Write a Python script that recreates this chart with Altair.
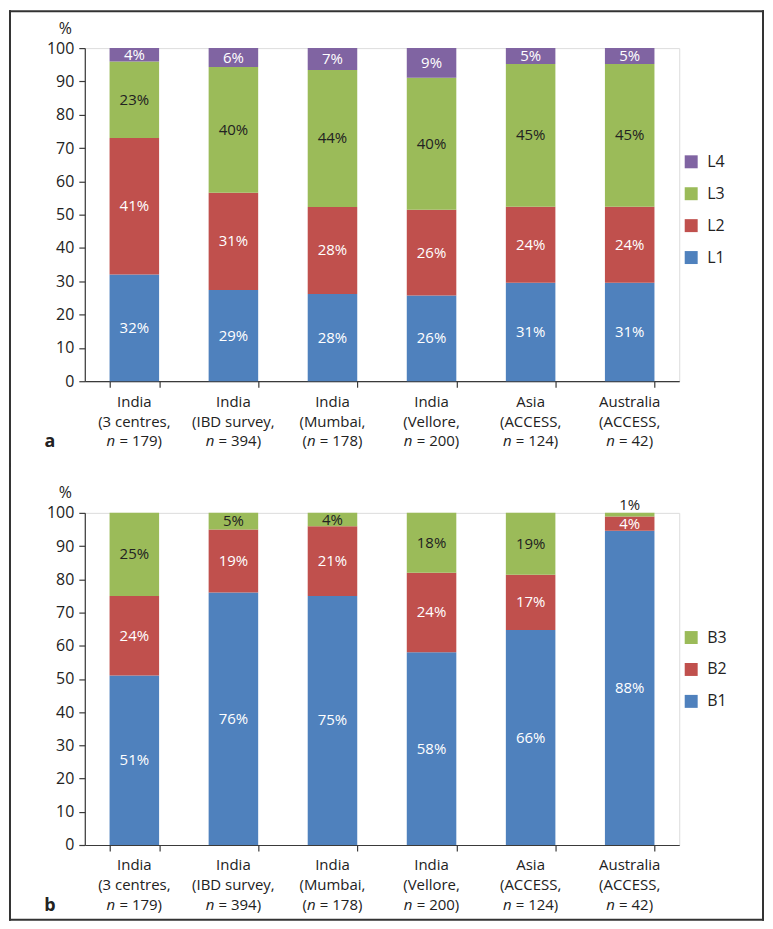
import altair as alt
import pandas as pd

# ---------------- data ----------------
categories = ["India (3 centres)", "India (IBD survey)", "India (Mumbai)",
              "India (Vellore)", "Asia (ACCESS)", "Australia (ACCESS)"]
label_line1 = ["India", "India", "India", "India", "Asia", "Australia"]
label_line2 = ["(3 centres,", "(IBD survey,", "(Mumbai,", "(Vellore,", "(ACCESS,", "(ACCESS,"]
label_prefix3 = ["", "", "(", "", "", ""]
n_values = ["179", "394", "178", "200", "124", "42"]

# panel a (location)
series_a = ["L1", "L2", "L3", "L4"]
L1 = [32, 29, 28, 26, 31, 31]
L2 = [41, 31, 28, 26, 24, 24]
L3 = [23, 40, 44, 40, 45, 45]
L4 = [4, 6, 7, 9, 5, 5]

# panel b (behaviour)
series_b = ["B1", "B2", "B3"]
B1 = [51, 76, 75, 58, 66, 88]
B2 = [24, 19, 21, 24, 17, 4]
B3 = [25, 5, 4, 18, 19, 1]

BLUE, RED, GREEN, PURPLE = "#4F81BD", "#C0504D", "#9BBB59", "#8064A2"
FONT = "Open Sans"
TXT = "#222222"
AX = "#3a3a3a"
W = 596

# approximate glyph widths (em) for centering the mixed italic line
EM = {"0": .572, "1": .572, "2": .572, "3": .572, "4": .572, "5": .572, "6": .572,
      "7": .572, "8": .572, "9": .572, " ": .26, "=": .572, "(": .297, ")": .297, "n": .6}
FS = 15


def tw(s):
    return sum(EM.get(ch, .55) for ch in s) * FS


def make_panel(names, values, legend_order, legend_colors, dark, legend_y,
               letter, height, top_rel, bottom_rel, draw_top):
    rows = []
    for k, (name, vals) in enumerate(zip(names, values)):
        for c, v in zip(categories, vals):
            rows.append({"cat": c, "series": name, "ord": k, "value": v})
    df = pd.DataFrame(rows)

    base = (alt.Chart(df)
            .transform_joinaggregate(total="sum(value)", groupby=["cat"])
            .transform_calculate(pct="datum.value / datum.total * 100")
            .transform_stack(stack="pct", groupby=["cat"], as_=["y0", "y1"],
                             sort=[alt.SortField("ord", order="ascending")])
            .transform_calculate(
                ymid="datum.pct < 2 ? datum.y1 + 2.4 : (datum.y0 + datum.y1) / 2",
                lab="datum.value + '%'"))

    xaxis = alt.Axis(labels=False, title=None, tickBand="extent", tickSize=6,
                     domainColor=AX, tickColor=AX, domainWidth=1.2, tickWidth=1.2)
    xenc = alt.X("cat:N", sort=categories,
                 scale=alt.Scale(domain=categories, paddingInner=0.5, paddingOuter=0.25),
                 axis=xaxis)
    yaxis = alt.Axis(values=list(range(0, 101, 10)), title="%", titleAngle=0,
                     titleX=-20, titleY=-20, titleAlign="center", titleBaseline="middle",
                     titleFontWeight="normal", titleFontSize=16, titleColor=TXT,
                     titleFont=FONT, grid=False, tickSize=6, labelPadding=5,
                     labelFontSize=16, labelColor=TXT, labelFont=FONT,
                     domainColor=AX, tickColor=AX, domainWidth=1.2, tickWidth=1.2)
    yscale = alt.Scale(domain=[0, 100], nice=False)

    bars = base.mark_bar().encode(
        x=xenc,
        y=alt.Y("y0:Q", scale=yscale, axis=yaxis),
        y2="y1:Q",
        color=alt.Color("series:N",
                        scale=alt.Scale(domain=legend_order, range=legend_colors),
                        legend=alt.Legend(orient="none", legendX=600, legendY=legend_y,
                                          title=None, symbolType="square", symbolSize=169,
                                          symbolStrokeWidth=0, symbolOpacity=1,
                                          labelFontSize=16, labelFont=FONT,
                                          labelColor=TXT, labelOffset=8, rowPadding=16)),
    )
    texts = base.mark_text(font=FONT, fontSize=15, baseline="middle").encode(
        x=xenc,
        y=alt.Y("ymid:Q", scale=yscale, axis=yaxis),
        text="lab:N",
        color=alt.condition(alt.FieldOneOfPredicate(field="series", oneOf=dark),
                            alt.value(TXT), alt.value("white")),
    )

    cat_df = pd.DataFrame({"cat": categories, "l1": label_line1, "l2": label_line2,
                           "pre": label_prefix3, "n": n_values})
    cbase = alt.Chart(cat_df)
    layers = [bars, texts]
    for field, dy in (("l1", 20.5), ("l2", 40.5)):
        layers.append(cbase.mark_text(font=FONT, fontSize=FS, color=TXT, baseline="middle",
                                      align="center").encode(
            x=xenc, y=alt.value(height + dy), text=f"{field}:N"))
    y3 = alt.value(height + 60)
    for c, pre, n in zip(categories, label_prefix3, n_values):
        rest = "= " + n + ")"
        gap = tw(" ")
        total = tw(pre) + tw("n") + gap + tw(rest)
        start = -total / 2
        sub = cbase.transform_filter(alt.FieldEqualPredicate(field="cat", equal=c))
        if pre:
            layers.append(sub.mark_text(font=FONT, fontSize=FS, color=TXT, baseline="middle",
                                        align="left", dx=start).encode(
                x=xenc, y=y3, text="pre:N"))
        layers.append(sub.mark_text(font=FONT, fontSize=FS, color=TXT, baseline="middle",
                                    align="left", dx=start + tw(pre), fontStyle="italic",
                                    text="n").encode(x=xenc, y=y3))
        layers.append(sub.mark_text(font=FONT, fontSize=FS, color=TXT, baseline="middle",
                                    align="left", dx=start + tw(pre) + tw("n") + gap,
                                    text=rest).encode(x=xenc, y=y3))

    one = alt.Chart(pd.DataFrame({"k": [0]}))
    layers.append(one.mark_text(font=FONT, fontSize=18, fontWeight="bold", color=TXT,
                                align="center", baseline="alphabetic", text=letter).encode(
        x=alt.value(-35), y=alt.value(height + 66)))

    # frame of the figure, drawn as thin filled rects (exact bounds)
    fr = dict(color="#333333", strokeWidth=0)
    left, right = -76, 681
    layers.append(one.mark_rect(**fr).encode(x=alt.value(left), x2=alt.value(left + 2),
                                             y=alt.value(top_rel), y2=alt.value(bottom_rel)))
    layers.append(one.mark_rect(**fr).encode(x=alt.value(right - 2), x2=alt.value(right),
                                             y=alt.value(top_rel), y2=alt.value(bottom_rel)))
    if draw_top:
        layers.append(one.mark_rect(**fr).encode(x=alt.value(left), x2=alt.value(right),
                                                 y=alt.value(top_rel), y2=alt.value(top_rel + 2)))
    else:
        layers.append(one.mark_rect(**fr).encode(x=alt.value(left), x2=alt.value(right),
                                                 y=alt.value(bottom_rel - 2),
                                                 y2=alt.value(bottom_rel)))
    return alt.layer(*layers).properties(width=W, height=height)


panel_a = make_panel(series_a, [L1, L2, L3, L4],
                     ["L4", "L3", "L2", "L1"], [PURPLE, GREEN, RED, BLUE], ["L3"],
                     legend_y=106, letter="a", height=334, top_rel=-38, bottom_rel=420,
                     draw_top=True)
panel_b = make_panel(series_b, [B1, B2, B3],
                     ["B3", "B2", "B1"], [GREEN, RED, BLUE], ["B3"],
                     legend_y=117, letter="b", height=333, top_rel=-50, bottom_rel=409,
                     draw_top=False)

chart = (alt.vconcat(panel_a, panel_b, spacing=132, bounds="flush")
         .resolve_scale(color="independent")
         .properties(padding={"left": 0, "top": 0, "right": 0, "bottom": 0})
         .configure_view(stroke=None)
         .configure(font=FONT))

chart.save("out.html", embed_options={"renderer": "svg", "actions": False})
